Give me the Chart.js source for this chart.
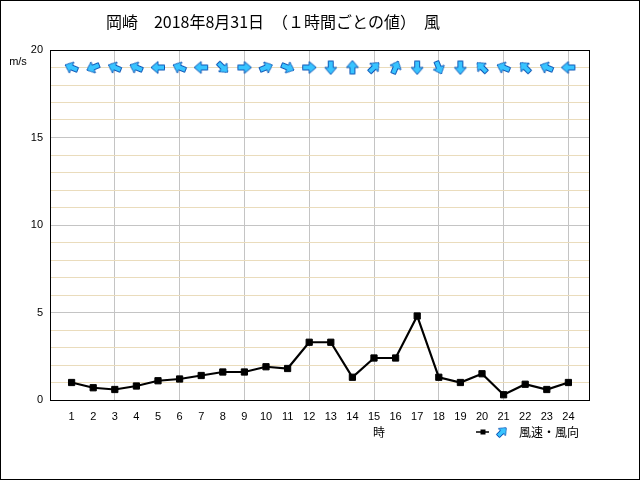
<!DOCTYPE html>
<html>
<head>
<meta charset="utf-8">
<script src="https://cdn.jsdelivr.net/npm/chart.js@4/dist/chart.umd.min.js"></script>
<style>
html,body{margin:0;padding:0;background:#fff;}
canvas{display:block;}
</style>
</head>
<body>
<canvas id="c" width="640" height="480"></canvas>
<script>
// ---- data ----
const hours = [1,2,3,4,5,6,7,8,9,10,11,12,13,14,15,16,17,18,19,20,21,22,23,24];
const windSpeed = [1.0,0.7,0.6,0.8,1.1,1.2,1.4,1.6,1.6,1.9,1.8,3.3,3.3,1.3,2.4,2.4,4.8,1.3,1.0,1.5,0.3,0.9,0.6,1.0];
const windFrom = ['東南東','東北東','東南東','東南東','東','東南東','東','北西','西','西南西','西北西','西',
                  '北','南','南西','南南西','北','北北西','北','南東','東南東','南東','東南東','東'];
const yTickLabels = [0,5,10,15,20];
const titleText = '岡崎　2018年8月31日　（１時間ごとの値）　風';
const xAxisTitle = '時';
const yAxisUnit = 'm/s';
const legendText = '風速・風向';

const compass = {'北':0,'北北東':22.5,'北東':45,'東北東':67.5,'東':90,'東南東':112.5,'南東':135,'南南東':157.5,
  '南':180,'南南西':202.5,'南西':225,'西南西':247.5,'西':270,'西北西':292.5,'北西':315,'北北西':337.5};
const ARROW_ROW = 19;

function makeArrow(s){
  const c = document.createElement('canvas');
  c.width = s; c.height = s;
  const g = c.getContext('2d');
  const m = s/2;
  g.beginPath();
  g.moveTo(m, 1);
  g.lineTo(s-2, m);
  g.lineTo(m+2.5, m);
  g.lineTo(m+2.5, s-1.5);
  g.lineTo(m-2.5, s-1.5);
  g.lineTo(m-2.5, m);
  g.lineTo(2, m);
  g.closePath();
  g.fillStyle = '#38c4ff';
  g.fill();
  g.strokeStyle = '#1058b8';
  g.lineWidth = 1;
  g.stroke();
  return c;
}
const arrowImg = makeArrow(16);

const speedPts = hours.map((h,i)=>({x:h, y:windSpeed[i]}));
const arrowPts = hours.map(h=>({x:h, y:ARROW_ROW}));
const arrowRot = windFrom.map(d=>(compass[d]+180)%360);

const decor = {
  id:'decor',
  beforeDraw(chart){
    const ctx = chart.ctx;
    ctx.save();
    ctx.fillStyle = '#fff';
    ctx.fillRect(0,0,chart.width,chart.height);
    ctx.restore();
  },
  afterDatasetsDraw(chart){
    const ctx = chart.ctx, a = chart.chartArea;
    ctx.save();
    ctx.strokeStyle = '#000';
    ctx.lineWidth = 1;
    ctx.strokeRect(Math.round(a.left)+0.5, Math.round(a.top)+0.5, Math.round(a.right-a.left)-1, Math.round(a.bottom-a.top));
    ctx.strokeRect(0.5,0.5,chart.width-1,chart.height-1);
    ctx.fillStyle = '#000';
    ctx.textBaseline = 'middle';
    ctx.textAlign = 'center';
    ctx.font = '16px "Noto Sans CJK JP"';
    ctx.fillText(titleText, 273, 22);
    ctx.font = '11px "Liberation Sans"';
    ctx.fillText(yAxisUnit, 18, 62);
    ctx.font = '12px "Noto Sans CJK JP"';
    ctx.fillText(xAxisTitle, 379, 432);
    // legend
    const ly = 432;
    ctx.strokeStyle = '#000';
    ctx.lineWidth = 1.5;
    ctx.beginPath(); ctx.moveTo(476, ly); ctx.lineTo(489, ly); ctx.stroke();
    ctx.fillRect(480.5, ly-2.5, 5, 5);
    ctx.save();
    ctx.translate(502, ly);
    ctx.rotate(45*Math.PI/180);
    ctx.drawImage(arrowImg, -7, -7, 14, 14);
    ctx.restore();
    ctx.textAlign = 'left';
    ctx.fillText(legendText, 519, ly);
    ctx.restore();
  }
};

new Chart(document.getElementById('c'), {
  type:'line',
  data:{
    datasets:[
      {
        data: speedPts,
        borderColor:'#000',
        backgroundColor:'#000',
        borderWidth:2.2,
        pointStyle:'rect',
        pointRadius:4.4,
        pointBorderWidth:1,
        tension:0,
        clip:false
      },
      {
        data: arrowPts,
        showLine:false,
        pointStyle: arrowImg,
        rotation: arrowRot,
        pointRadius:8,
        clip:false
      }
    ]
  },
  plugins:[decor],
  options:{
    responsive:false,
    animation:false,
    events:[],
    layout:{padding:{left:0, top:50, right:50, bottom:50}},
    plugins:{legend:{display:false}, title:{display:false}, tooltip:{enabled:false}},
    scales:{
      x:{
        type:'linear', min:0, max:25,
        afterFit(s){ s.height = 30; },
        border:{display:false},
        grid:{
          drawTicks:false,
          color(ctx){ const v = ctx.tick && ctx.tick.value; return (v>0 && v<25 && v%3===0) ? '#c4c4c4' : 'rgba(0,0,0,0)'; },
          lineWidth:1
        },
        ticks:{
          stepSize:1, autoSkip:false, maxRotation:0, padding:10,
          color:'#000', font:{family:'Liberation Sans', size:11},
          callback(v){ return hours.includes(v) ? String(v) : ''; }
        }
      },
      y:{
        min:0, max:20,
        afterFit(s){ s.width = 50; },
        border:{display:false},
        grid:{
          drawTicks:false,
          color(ctx){ const v = ctx.tick && ctx.tick.value; if (v===0||v===20) return 'rgba(0,0,0,0)'; return v%5===0 ? '#c4c4c4' : '#eadcbc'; },
          lineWidth:1
        },
        ticks:{
          stepSize:1, autoSkip:false, padding:7,
          color:'#000', font:{family:'Liberation Sans', size:11},
          callback(v){ return yTickLabels.includes(v) ? String(v) : ''; }
        }
      }
    }
  }
});
</script>
</body>
</html>
